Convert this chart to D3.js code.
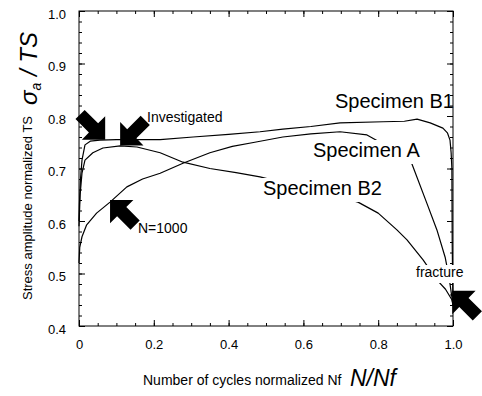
<!DOCTYPE html>
<html>
<head>
<meta charset="utf-8">
<script src="https://cdn.jsdelivr.net/npm/d3@7/dist/d3.min.js"></script>
<style>
  html, body { margin: 0; padding: 0; background: #fff; }
  svg { display: block; }
  text { font-family: "Liberation Sans", Arial, Helvetica, sans-serif; fill: #000; }
</style>
</head>
<body>
<svg id="chart" width="482" height="396"></svg>
<script>
// ---------- data ----------
const xTickValues = [0, 0.2, 0.4, 0.6, 0.8, 1.0];
const xTickLabels = ["0", "0.2", "0.4", "0.6", "0.8", "1.0"];
const yTickValues = [0.4, 0.5, 0.6, 0.7, 0.8, 0.9, 1.0];
const yTickLabels = ["0.4", "0.5", "0.6", "0.7", "0.8", "0.9", "1.0"];

const specB1X = [0, 0.001, 0.004, 0.008, 0.016, 0.03, 0.056, 0.1, 0.217, 0.305, 0.4, 0.484, 0.545, 0.62, 0.698, 0.813, 0.87, 0.904, 0.939, 0.973, 0.985, 0.992, 0.995, 0.997, 0.998, 1.0];
const specB1Y = [0.60, 0.63, 0.68, 0.716, 0.745, 0.752, 0.754, 0.755, 0.755, 0.76, 0.765, 0.77, 0.775, 0.78, 0.787, 0.789, 0.790, 0.794, 0.787, 0.777, 0.768, 0.754, 0.73, 0.70, 0.55, 0.44];

const specB2X = [0, 0.003, 0.008, 0.016, 0.037, 0.064, 0.11, 0.155, 0.217, 0.278, 0.35, 0.42, 0.484, 0.55, 0.65, 0.746, 0.8, 0.85, 0.877, 0.92, 0.957, 0.98, 0.997, 1.0];
const specB2Y = [0.59, 0.65, 0.691, 0.716, 0.73, 0.739, 0.743, 0.741, 0.73, 0.712, 0.70, 0.692, 0.684, 0.672, 0.655, 0.636, 0.615, 0.583, 0.564, 0.526, 0.488, 0.47, 0.45, 0.44];

const specAX = [0, 0.002, 0.008, 0.02, 0.047, 0.083, 0.128, 0.17, 0.217, 0.278, 0.35, 0.41, 0.47, 0.545, 0.62, 0.698, 0.77, 0.83, 0.89, 0.93, 0.957, 0.979, 0.99, 0.997, 1.0];
const specAY = [0.52, 0.55, 0.57, 0.592, 0.615, 0.636, 0.665, 0.68, 0.691, 0.71, 0.73, 0.742, 0.75, 0.76, 0.766, 0.77, 0.764, 0.74, 0.709, 0.634, 0.583, 0.531, 0.49, 0.455, 0.44];

// arrows: tip position in data units and pointing direction (degrees, screen)
const arrowTipX = [0.07, 0.11, 0.083, 0.998];
const arrowTipY = [0.755, 0.744, 0.64, 0.467];
const arrowDir  = [45, 135, 225, 225];

// ---------- layout ----------
const svg = d3.select("#chart");
const L = 79, R = 453, T = 11, B = 326;
const x = d3.scaleLinear().domain([0, 1]).range([L, R]);
const y = d3.scaleLinear().domain([0.4, 1.0]).range([B, T]);

const xMinor = d3.range(0, 1.0001, 0.05);
const yMinor = d3.range(0.4, 1.0001, 0.02);

// frame
svg.append("rect").attr("x", L).attr("y", T).attr("width", R - L).attr("height", B - T)
  .attr("fill", "none").attr("stroke", "#000").attr("stroke-width", 1);

function styleAxis(g) {
  g.select(".domain").remove();
  g.selectAll(".tick line").attr("stroke", "#000").attr("stroke-width", 1);
}

// bottom
svg.append("g").attr("transform", `translate(0,${B})`)
  .call(d3.axisBottom(x).tickValues(xMinor).tickSize(-3).tickFormat(""))
  .call(styleAxis);
svg.append("g").attr("transform", `translate(0,${B})`)
  .call(d3.axisBottom(x).tickValues(xTickValues).tickSize(-6).tickPadding(14)
        .tickFormat((d, i) => xTickLabels[i]))
  .call(styleAxis)
  .call(g => g.selectAll("text").attr("font-size", 13).attr("fill", "#000")
        .attr("font-family", "Liberation Sans, Arial, sans-serif"));
// top
svg.append("g").attr("transform", `translate(0,${T})`)
  .call(d3.axisTop(x).tickValues(xMinor).tickSize(-3).tickFormat("")).call(styleAxis);
svg.append("g").attr("transform", `translate(0,${T})`)
  .call(d3.axisTop(x).tickValues(xTickValues).tickSize(-6).tickFormat("")).call(styleAxis);
// left
svg.append("g").attr("transform", `translate(${L},0)`)
  .call(d3.axisLeft(y).tickValues(yMinor).tickSize(-3).tickFormat("")).call(styleAxis);
svg.append("g").attr("transform", `translate(${L},0)`)
  .call(d3.axisLeft(y).tickValues(yTickValues).tickSize(-6).tickPadding(13)
        .tickFormat((d, i) => yTickLabels[i]))
  .call(styleAxis)
  .call(g => g.selectAll("text").attr("font-size", 13).attr("fill", "#000").attr("dy", "0.55em")
        .attr("font-family", "Liberation Sans, Arial, sans-serif"));
// right
svg.append("g").attr("transform", `translate(${R},0)`)
  .call(d3.axisRight(y).tickValues(yMinor).tickSize(-3).tickFormat("")).call(styleAxis);
svg.append("g").attr("transform", `translate(${R},0)`)
  .call(d3.axisRight(y).tickValues(yTickValues).tickSize(-6).tickFormat("")).call(styleAxis);

// curves
const lineGen = d3.line().x(d => x(d[0])).y(d => y(d[1])).curve(d3.curveLinear);
const series = [
  d3.zip(specB1X, specB1Y),
  d3.zip(specB2X, specB2Y),
  d3.zip(specAX, specAY)
];
svg.append("g").selectAll("path").data(series).join("path")
  .attr("d", lineGen).attr("fill", "none").attr("stroke", "#000")
  .attr("stroke-width", 1.2).attr("stroke-linejoin", "round");

// arrows
function arrowPath(tx, ty, ang, h, s, w) {
  const pts = [[0, 0], [-h, -h], [-h, -w / 2], [-h - s, -w / 2], [-h - s, w / 2], [-h, w / 2], [-h, h]];
  const a = ang * Math.PI / 180, c = Math.cos(a), sn = Math.sin(a);
  return "M" + pts.map(p => [tx + c * p[0] - sn * p[1], ty + sn * p[0] + c * p[1]].map(v => v.toFixed(2)).join(",")).join("L") + "Z";
}
svg.append("g").selectAll("path").data(arrowTipX.map((d, i) => i)).join("path")
  .attr("d", i => arrowPath(x(arrowTipX[i]), y(arrowTipY[i]), arrowDir[i], 16.5, 19, 13))
  .attr("fill", "#000");

// labels with white masks
function label(txt, px, py, size, mask) {
  const t = svg.append("text").attr("x", px).attr("y", py).attr("font-size", size).text(txt);
  if (mask) {
    const bb = t.node().getBBox();
    svg.insert("rect", () => t.node())
      .attr("x", bb.x - 3).attr("y", bb.y + 1).attr("width", bb.width + 6).attr("height", bb.height + 2)
      .attr("fill", "#fff");
  }
  return t;
}
label("Specimen B1", 335, 108, 20, false);
label("Specimen A", 313, 157, 20, true);
label("Specimen B2", 263, 195, 20, true);
label("Investigated", 147, 122, 14, false);
label("N=1000", 138, 233, 14, false);
label("fracture", 416, 277, 14, true);

// axis titles
svg.append("text").attr("x", 143).attr("y", 385).attr("font-size", 14)
  .text("Number of cycles normalized Nf");
svg.append("text").attr("x", 350).attr("y", 386).attr("font-size", 23)
  .attr("font-style", "italic").text("N/Nf");

svg.append("text").attr("transform", "translate(32,300) rotate(-90)")
  .attr("font-size", 13).text("Stress amplitude normalized TS");
const yt = svg.append("text").attr("transform", "translate(37,105) rotate(-90)")
  .attr("font-size", 24).attr("font-style", "italic");
yt.append("tspan").text("σ");
yt.append("tspan").attr("font-size", 14).attr("dy", 4).text("a");
yt.append("tspan").attr("dy", -4).text(" / TS");
</script>
</body>
</html>
